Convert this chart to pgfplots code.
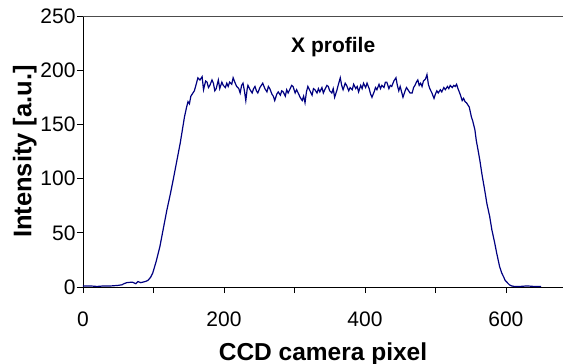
\documentclass[border=0pt]{standalone}
\usepackage{pgfplots}
\pgfplotsset{compat=1.18}
\usepackage{fontspec}
\setmainfont{Liberation Sans}
\definecolor{navyline}{HTML}{000080}
\begin{document}
\begin{tikzpicture}
\begin{axis}[
  name=ax,
  scale only axis,
  width=480pt, height=271pt,
  xmin=0, xmax=681, ymin=0, ymax=250,
  axis x line*=bottom, axis y line*=left,
  axis line style={-, black, line width=0.8pt},
  xtick={0,100,...,600},
  xticklabels={0,,200,,400,,600},
  ytick={0,50,...,250},
  tick align=outside,
  major tick length=6pt,
  tick style={black, line width=0.8pt},
  /pgf/number format/assume math mode=true,
  ticklabel style={font=\fontsize{21}{24}\selectfont},
  xticklabel shift=15pt,
  yticklabel shift=-2pt,
  xlabel={\textbf{CCD camera pixel}},
  ylabel={\textbf{Intensity [a.u.]}},
  xlabel style={font=\fontsize{24.5}{28}\selectfont, yshift=-9pt},
  ylabel style={font=\fontsize{25.5}{28}\selectfont, yshift=-3pt},
  clip=false,
]
\addplot[navyline, line width=1.2pt] coordinates {
(0,1) (10,1) (20,0.5) (30,1) (40,1) (50,1.5) (55,2) (58,3) (62,4) (70,4.5) (75,3) (78,5) (82,4) (88,5) (92,6) (96,9) (99,13) (104,24) (109,37) (114,54) (119,71) (124,86) (128,99) (133,116) (138,133) (141,145) (144,157) (147,166) (149,171) (151,169) (153,176) (156,179) (158,181) (161,188) (163,193) (166,191) (169,194) (171,182) (174,190) (176,189) (178,184) (180,186) (183,191) (185,188) (187,181) (189,183) (192,191) (194,183) (197,189) (199,186) (202,184) (204,188) (206,185) (208,189) (211,187) (213,193) (216,188) (218,185) (221,183) (223,179) (225,186) (227,188) (229,181) (231,172) (233,183) (234,186) (237,182) (240,179) (242,183) (244,185) (246,181) (248,179) (251,184) (253,186) (255,188) (258,183) (261,180) (263,185) (265,183) (268,178) (270,176) (272,172) (275,178) (277,180) (280,177) (282,181) (284,180) (287,176) (289,182) (291,179) (294,183) (296,186) (298,185) (301,179) (303,182) (306,178) (308,175) (311,172) (313,176) (315,170) (317,180) (319,185) (322,181) (325,177) (327,183) (329,182) (332,179) (334,183) (336,180) (339,184) (341,179) (343,182) (346,186) (348,185) (350,181) (353,179) (355,183) (357,175) (360,181) (362,186) (365,193) (367,186) (369,182) (372,188) (374,186) (377,181) (379,184) (382,182) (384,187) (387,183) (389,185) (391,180) (394,186) (396,183) (398,188) (401,184) (403,188) (406,183) (408,178) (410,175) (413,180) (415,184) (417,182) (420,187) (422,183) (424,186) (427,184) (429,189) (431,189) (434,183) (436,186) (438,185) (441,190) (444,193) (446,186) (448,181) (450,185) (452,180) (454,175) (457,181) (459,184) (461,182) (464,179) (467,179) (469,184) (471,186) (473,189) (475,191) (477,186) (479,188) (481,185) (483,190) (486,192) (488,196) (490,187) (492,183) (495,179) (498,174) (500,178) (502,181) (504,179) (507,182) (509,180) (512,184) (514,182) (517,185) (519,183) (521,186) (524,184) (526,186) (528,185) (530,187) (532,183) (535,178) (538,172) (540,174) (542,171) (544,170) (546,168) (548,166) (551,157) (553,153) (556,145) (558,135) (560,128) (563,117) (566,104) (570,89) (573,77) (577,65) (580,53) (584,41) (587,31) (591,19) (594,13) (597,9) (599,6) (602,4) (605,2) (608,1) (612,0.5) (620,0.5) (630,1) (640,0.5) (650,0.5)
};
\node[font=\bfseries\fontsize{21}{24}\selectfont] at (axis cs:355,221) {X profile};
\end{axis}
\draw[black!70, line width=0.8pt] (ax.north west) -- (ax.north east);
\pgfresetboundingbox
\path ([shift={(-83pt,-77pt)}]ax.south west) rectangle ([shift={(0pt,16pt)}]ax.north east);
\end{tikzpicture}
\end{document}
